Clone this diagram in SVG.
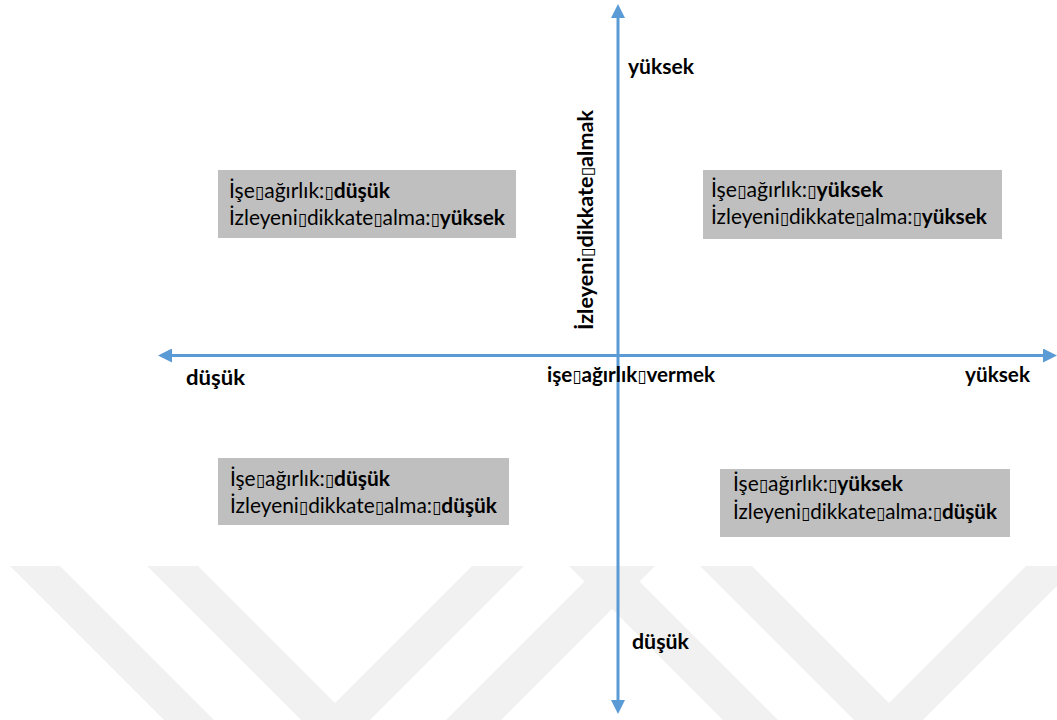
<svg xmlns="http://www.w3.org/2000/svg" width="1057" height="720" viewBox="0 0 1057 720">
  <style>
    text { font-family: Lato, "Open Sans", "DejaVu Sans", sans-serif; font-size: 21px; fill: #000; }
    .b { font-weight: bold; }
    .lbl { font-weight: bold; font-size: 21px; }
    .tofu { font-family: "DejaVu Sans", sans-serif; font-weight: normal; font-size: 17px; fill: #000; }
    .box { fill: #bfbfbf; }
    .axis { stroke: #5b9bd5; stroke-width: 3; fill: none; }
    .wm { fill: #f1f1f1; }
  </style>
  <defs>
    <marker id="head" viewBox="0 0 14 14" refX="0" refY="7" markerWidth="14" markerHeight="14" markerUnits="userSpaceOnUse" orient="auto-start-reverse">
      <path d="M0,0 L14,7 L0,14 z" fill="#5b9bd5"/>
    </marker>
  </defs>

  <rect width="1057" height="720" fill="#ffffff"/>

  <!-- light chevron background -->
  <g id="watermark">
    <polygon class="wm" points="10,566 60,566 214,720 164,720"/>
    <polygon class="wm" points="147,566 198,566 335,703 472,566 524,566 370,720 301,720"/>
    <polygon class="wm" points="600,566 655,566 501,720 446,720"/>
    <polygon class="wm" points="569,566 624,566 778,720 723,720"/>
    <polygon class="wm" points="700,566 752,566 889,703 1026,566 1077,566 923,720 854,720"/>
  </g>

  <!-- axes -->
  <g id="connectors">
    <line class="axis" x1="618" y1="700" x2="618" y2="18" marker-start="url(#head)" marker-end="url(#head)"/>
    <line class="axis" x1="172" y1="355.5" x2="1043" y2="355.5" marker-start="url(#head)" marker-end="url(#head)"/>
  </g>

  <!-- axis labels -->
  <g id="axis-labels">
    <text class="lbl" x="628" y="74" textLength="66" lengthAdjust="spacingAndGlyphs">yüksek</text>
    <text class="lbl" x="632" y="649" textLength="57" lengthAdjust="spacingAndGlyphs">düşük</text>
    <text class="lbl" x="186" y="385" textLength="59" lengthAdjust="spacingAndGlyphs">düşük</text>
    <text class="lbl" x="965" y="382" textLength="65" lengthAdjust="spacingAndGlyphs">yüksek</text>
    <text class="lbl" x="547" y="382" textLength="168" lengthAdjust="spacingAndGlyphs">işe<tspan class="tofu">▯</tspan>ağırlık<tspan class="tofu">▯</tspan>vermek</text>
    <text class="lbl" transform="translate(593,330) rotate(-90)" x="0" y="0" textLength="220" lengthAdjust="spacingAndGlyphs">İzleyeni<tspan class="tofu">▯</tspan>dikkate<tspan class="tofu">▯</tspan>almak</text>
  </g>

  <!-- quadrant: low weight / high attention -->
  <g id="q-top-left">
    <rect class="box" x="218" y="170" width="298" height="68"/>
    <text x="229" y="198" textLength="161" lengthAdjust="spacingAndGlyphs">İşe<tspan class="tofu">▯</tspan>ağırlık:<tspan class="tofu">▯</tspan><tspan class="b">düşük</tspan></text>
    <text x="229" y="225" textLength="276" lengthAdjust="spacingAndGlyphs">İzleyeni<tspan class="tofu">▯</tspan>dikkate<tspan class="tofu">▯</tspan>alma:<tspan class="tofu">▯</tspan><tspan class="b">yüksek</tspan></text>
  </g>

  <!-- quadrant: high weight / high attention -->
  <g id="q-top-right">
    <rect class="box" x="703" y="170" width="299" height="69"/>
    <text x="711" y="197" textLength="172" lengthAdjust="spacingAndGlyphs">İşe<tspan class="tofu">▯</tspan>ağırlık:<tspan class="tofu">▯</tspan><tspan class="b">yüksek</tspan></text>
    <text x="711" y="224" textLength="276" lengthAdjust="spacingAndGlyphs">İzleyeni<tspan class="tofu">▯</tspan>dikkate<tspan class="tofu">▯</tspan>alma:<tspan class="tofu">▯</tspan><tspan class="b">yüksek</tspan></text>
  </g>

  <!-- quadrant: low weight / low attention -->
  <g id="q-bottom-left">
    <rect class="box" x="218" y="458" width="291" height="67"/>
    <text x="230" y="486" textLength="160" lengthAdjust="spacingAndGlyphs">İşe<tspan class="tofu">▯</tspan>ağırlık:<tspan class="tofu">▯</tspan><tspan class="b">düşük</tspan></text>
    <text x="230" y="513" textLength="267" lengthAdjust="spacingAndGlyphs">İzleyeni<tspan class="tofu">▯</tspan>dikkate<tspan class="tofu">▯</tspan>alma:<tspan class="tofu">▯</tspan><tspan class="b">düşük</tspan></text>
  </g>

  <!-- quadrant: high weight / low attention -->
  <g id="q-bottom-right">
    <rect class="box" x="720" y="469" width="290" height="68"/>
    <text x="733" y="491" textLength="170" lengthAdjust="spacingAndGlyphs">İşe<tspan class="tofu">▯</tspan>ağırlık:<tspan class="tofu">▯</tspan><tspan class="b">yüksek</tspan></text>
    <text x="733" y="519" textLength="264" lengthAdjust="spacingAndGlyphs">İzleyeni<tspan class="tofu">▯</tspan>dikkate<tspan class="tofu">▯</tspan>alma:<tspan class="tofu">▯</tspan><tspan class="b">düşük</tspan></text>
  </g>
</svg>
